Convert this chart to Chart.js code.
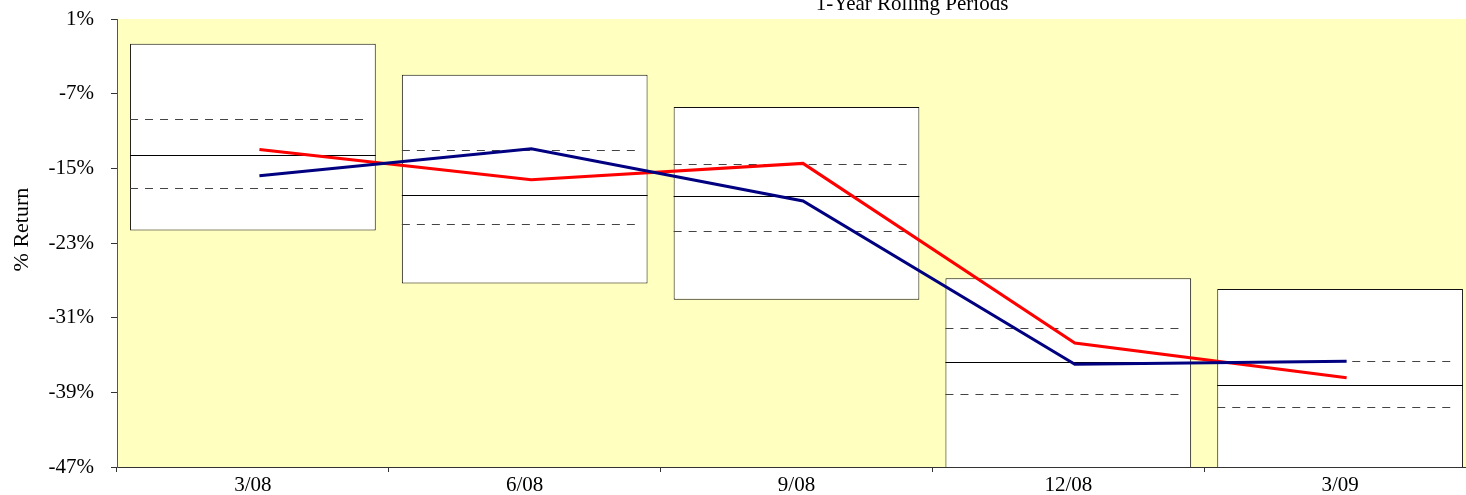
<!DOCTYPE html>
<html>
<head>
<meta charset="utf-8">
<script src="https://cdn.jsdelivr.net/npm/chart.js@4/dist/chart.umd.min.js"></script>
<style>
html,body{margin:0;padding:0;background:#fff;overflow:hidden;width:1466px;height:495px;}
canvas{display:block;}
</style>
</head>
<body>
<canvas id="c" width="1480" height="495"></canvas>
<script>
// ---- data ----
const categories = ['3/08', '6/08', '9/08', '12/08', '3/09'];
const boxTop     = [-1.65, -4.97, -8.43, -26.79, -27.93];
const boxBottom  = [-21.65, -27.35, -29.08, -49, -49];
const upperQuart = [-9.68, -13.07, -14.58, -32.15, -35.68];
const median     = [-13.54, -17.9, -17.97, -35.72, -38.18];
const lowerQuart = [-17.1, -20.97, -21.7, -39.15, -40.57];
const blueSeries = [-15.79, -12.9, -18.5, -36.0, -35.68];
const redSeries  = [-12.97, -16.22, -14.47, -33.71, -37.43];
const yTicks     = [1, -7, -15, -23, -31, -39, -47];
const titleText  = '1-Year Rolling Periods';
const yTitle     = '% Return';

const FONT = 'Liberation Serif';
const lineShift = 0.024; // fraction of a category the lines sit right of the box centres

const plotBg = {
  id: 'plotBg',
  beforeDraw(chart) {
    const {ctx, chartArea: a} = chart;
    ctx.save();
    ctx.fillStyle = '#FFFFC0';
    ctx.fillRect(a.left, a.top, a.right - a.left, a.bottom - a.top);
    ctx.restore();
  }
};

const boxLines = {
  id: 'boxLines',
  beforeDatasetDraw(chart, args) {
    if (args.meta.type === 'line') {
      const xs = chart.scales.x;
      chart.ctx.save();
      chart.ctx.translate((xs.getPixelForValue(1) - xs.getPixelForValue(0)) * lineShift, 0);
    }
  },
  afterDatasetDraw(chart, args) {
    if (args.meta.type === 'line') { chart.ctx.restore(); return; }
    if (args.meta.type !== 'bar') return;
    const {ctx, chartArea: a} = chart;
    const y = chart.scales.y;
    ctx.save();
    ctx.beginPath();
    ctx.rect(a.left, a.top, a.right - a.left, a.bottom - a.top);
    ctx.clip();
    args.meta.data.forEach((bar, i) => {
      const l = bar.x - bar.width / 2, r = bar.x + bar.width / 2;
      const line = (v, dash, color, shorten) => {
        const py = Math.round(y.getPixelForValue(v)) + 0.5;
        ctx.beginPath();
        ctx.setLineDash(dash);
        ctx.strokeStyle = color;
        ctx.lineWidth = 1;
        ctx.moveTo(l, py);
        ctx.lineTo(r - shorten, py);
        ctx.stroke();
      };
      line(median[i], [], '#000', 0);
      line(upperQuart[i], [8, 7], '#444', 7);
      line(lowerQuart[i], [8, 7], '#444', 7);
    });
    ctx.restore();
  }
};

const texts = {
  id: 'texts',
  afterDraw(chart) {
    const {ctx} = chart;
    const a = chart.chartArea;
    ctx.save();
    ctx.fillStyle = '#000';
    ctx.font = '21px "' + FONT + '"';
    ctx.textAlign = 'center';
    ctx.textBaseline = 'alphabetic';
    ctx.fillText(titleText, a.left + (a.right - a.left) * 0.585, 9.5);
    ctx.font = '22px "' + FONT + '"';
    ctx.translate(28, a.top + (a.bottom - a.top) * 0.47);
    ctx.rotate(-Math.PI / 2);
    ctx.fillText(yTitle, 0, 0);
    ctx.restore();
  }
};

new Chart(document.getElementById('c'), {
  data: {
    labels: categories,
    datasets: [
      {
        type: 'line',
        label: 'Blue',
        data: blueSeries,
        borderColor: '#000080',
        borderWidth: 3,
        pointRadius: 0,
        tension: 0,
        order: 0
      },
      {
        type: 'line',
        label: 'Red',
        data: redSeries,
        borderColor: '#FF0000',
        borderWidth: 3,
        pointRadius: 0,
        tension: 0,
        order: 0
      },
      {
        type: 'bar',
        label: 'Range',
        data: boxTop.map((t, i) => [boxBottom[i], t]),
        backgroundColor: '#FFFFFF',
        borderColor: '#111',
        borderWidth: 1,
        borderSkipped: false,
        categoryPercentage: 0.904,
        barPercentage: 1,
        order: 1
      }
    ]
  },
  options: {
    responsive: false,
    animation: false,
    layout: {padding: {top: 19, right: 4, left: 0, bottom: 0}},
    plugins: {legend: {display: false}, tooltip: {enabled: false}, title: {display: false}},
    scales: {
      x: {
        type: 'category',
        offset: true,
        grid: {display: true, offset: true, drawOnChartArea: false, drawTicks: true, tickLength: 5, color: '#333'},
        border: {display: true, color: '#333', width: 1},
        ticks: {color: '#000', font: {family: FONT, size: 21}, padding: 1, maxRotation: 0},
        afterFit(s) { s.height = 28; s.paddingLeft = 0; s.paddingRight = 0; }
      },
      y: {
        min: -47,
        max: 1,
        afterBuildTicks(s) { s.ticks = yTicks.map(v => ({value: v})); },
        grid: {drawOnChartArea: false, drawTicks: true, tickLength: 6, color: '#333'},
        border: {display: true, color: '#555', width: 1},
        ticks: {color: '#000', font: {family: FONT, size: 21}, padding: 17, callback: v => v + '%'},
        afterFit(s) { s.width = 117; s.paddingTop = 0; s.paddingBottom = 0; }
      }
    }
  },
  plugins: [plotBg, boxLines, texts]
});
</script>
</body>
</html>
